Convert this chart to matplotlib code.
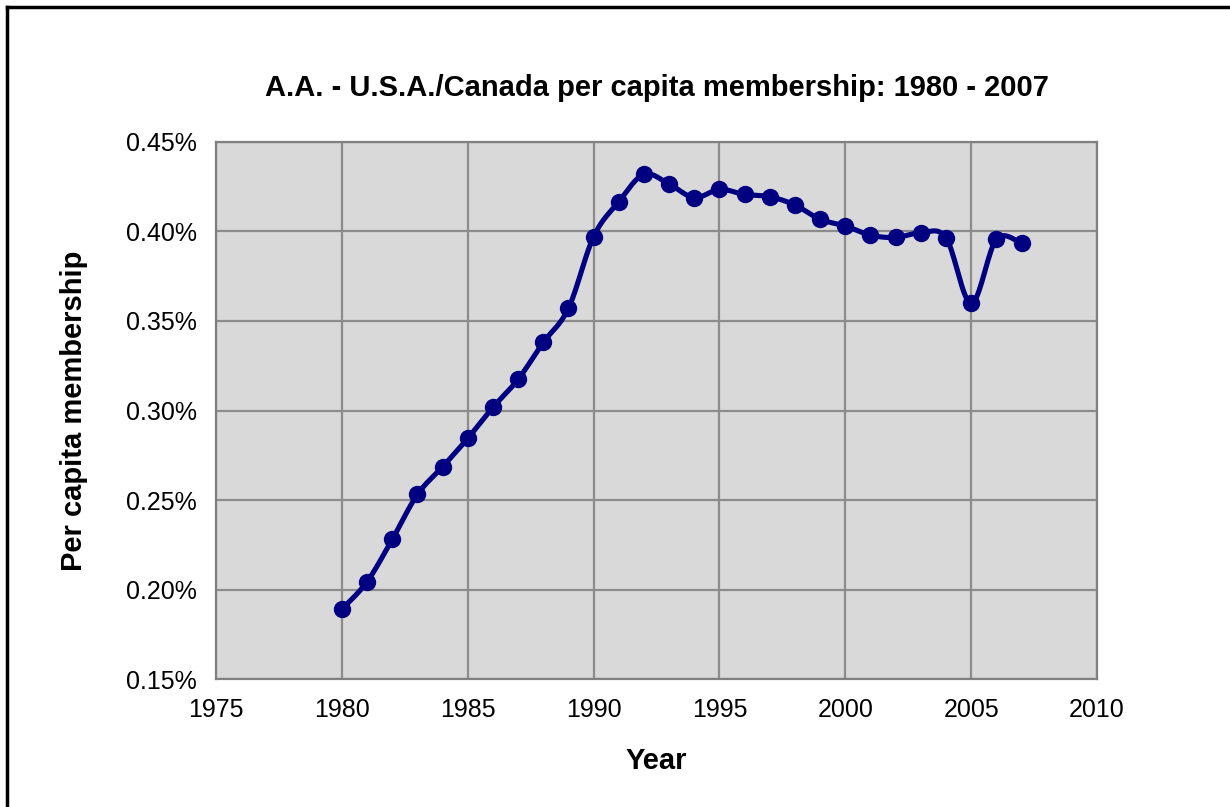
import numpy as np
import matplotlib.pyplot as plt
from matplotlib.lines import Line2D
from matplotlib.ticker import FuncFormatter, MultipleLocator

plt.rcParams['font.family'] = ['Liberation Sans', 'DejaVu Sans']

years = np.arange(1980, 2008)
# per capita membership, in percent
membership = [0.1892, 0.2045, 0.2281, 0.2532, 0.2686, 0.2845, 0.3018, 0.3174,
              0.3380, 0.3570, 0.3970, 0.4165, 0.4318, 0.4264, 0.4188, 0.4234,
              0.4206, 0.4193, 0.4147, 0.4067, 0.4030, 0.3979, 0.3966, 0.3992,
              0.3964, 0.3598, 0.3955, 0.3933]

title = 'A.A. - U.S.A./Canada per capita membership: 1980 - 2007'


def smooth(x, y, n=20):
    # excel style smoothed line (bezier through the points)
    x = np.asarray(x, float)
    y = np.asarray(y, float)
    xs, ys = [x[0]], [y[0]]
    t = np.linspace(0, 1, n)[1:]
    for i in range(len(x) - 1):
        i0 = max(i - 1, 0)
        i3 = min(i + 2, len(x) - 1)
        c1x = x[i] + (x[i + 1] - x[i0]) / 6
        c1y = y[i] + (y[i + 1] - y[i0]) / 6
        c2x = x[i + 1] - (x[i3] - x[i]) / 6
        c2y = y[i + 1] - (y[i3] - y[i]) / 6
        bx = (1-t)**3*x[i] + 3*(1-t)**2*t*c1x + 3*(1-t)*t**2*c2x + t**3*x[i+1]
        by = (1-t)**3*y[i] + 3*(1-t)**2*t*c1y + 3*(1-t)*t**2*c2y + t**3*y[i+1]
        xs.extend(bx)
        ys.extend(by)
    return np.array(xs), np.array(ys)


fig = plt.figure(figsize=(12.3, 8.07), dpi=100)
ax = fig.add_axes([0.1756, 0.158, 0.7163, 0.6664])
ax.set_facecolor('#d9d9d9')

sx, sy = smooth(years, membership)
ax.plot(sx, sy, color='#000080', lw=3.7, zorder=3)
ax.plot(years, membership, 'o', color='#000080', ms=11.5, zorder=4)

ax.set_xlim(1975, 2010)
ax.set_ylim(0.15, 0.45)
ax.xaxis.set_major_locator(MultipleLocator(5))
ax.yaxis.set_major_locator(MultipleLocator(0.05))
ax.yaxis.set_major_formatter(FuncFormatter(lambda v, p: f'{v:.2f}%'))
ax.grid(True, color='#8c8c8c', lw=1.6)
ax.set_axisbelow(True)
ax.tick_params(length=0, labelsize=18, pad=13)
ax.tick_params(axis='y', pad=14)
for s in ax.spines.values():
    s.set_color('#808080')
    s.set_linewidth(1.6)

ax.set_title(title, fontsize=21, fontweight='bold', pad=33)
ax.set_xlabel('Year', fontsize=21, fontweight='bold', labelpad=18)
ax.set_ylabel('Per capita membership', fontsize=21, fontweight='bold', labelpad=27)

# frame of the chart (left and top edges)
fig.add_artist(Line2D([7/1230, 7/1230], [0, 1 - 7/807], color='black', lw=2.5,
                      transform=fig.transFigure))
fig.add_artist(Line2D([7/1230, 1], [1 - 7/807, 1 - 7/807], color='black', lw=2.5,
                      transform=fig.transFigure))

plt.savefig('out.png', dpi=100)
